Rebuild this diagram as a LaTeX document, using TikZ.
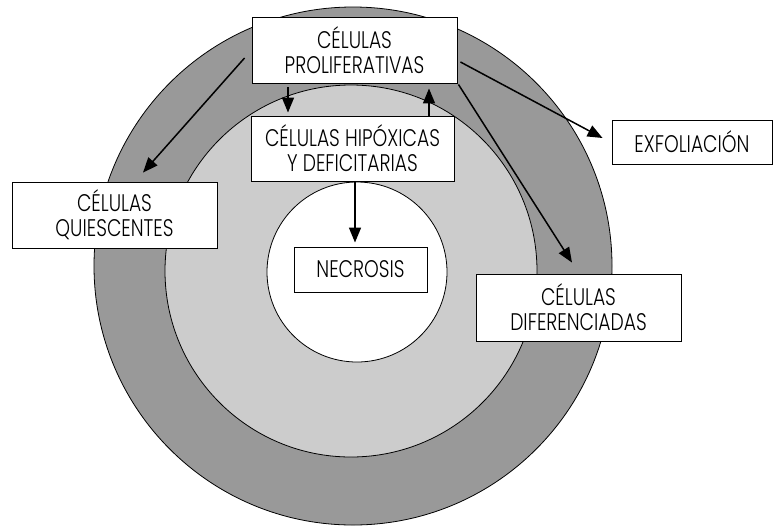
\documentclass[tikz,border=0pt]{standalone}
\usepackage{fontspec}
\setmainfont{Poppins Light}[FakeStretch=0.78]
\usetikzlibrary{arrows.meta}
\definecolor{ringdark}{gray}{0.6}
\definecolor{ringlight}{gray}{0.8}
\tikzset{
  label box/.style={draw=black, line width=0.9pt, fill=white, inner sep=0pt,
    align=center, font=\fontsize{24}{25}\selectfont},
  flow/.style={line width=1.5pt, -{Triangle[length=15pt,width=12pt]}},
  disc/.style={draw=black, line width=0.8pt}
}
\begin{document}
\begin{tikzpicture}[x=1pt,y=1pt]
\useasboundingbox (0,0) rectangle (773,-528);
% concentric zones of the spheroid
\filldraw[disc, fill=ringdark]  (353,-266) circle (259pt);
\filldraw[disc, fill=ringlight] (351,-271) circle (186pt);
\filldraw[disc, fill=white]     (357,-272) circle (90pt);

% labels
\node[label box, minimum width=205pt, minimum height=66pt] (prol) at (354.5,-50) {CÉLULAS\\PROLIFERATIVAS};
\node[label box, minimum width=203pt, minimum height=65pt] (hyp) at (352.5,-148.5) {CÉLULAS HIPÓXICAS\\Y DEFICITARIAS};
\node[label box, minimum width=205pt, minimum height=66pt] (quies) at (114.5,-215) {CÉLULAS\\QUIESCENTES};
\node[label box, minimum width=160pt, minimum height=44pt] (exfol) at (692,-142) {EXFOLIACIÓN};
\node[label box, minimum width=205pt, minimum height=67pt] (dif) at (578.5,-307.5) {CÉLULAS\\DIFERENCIADAS};
\node[label box, minimum width=133pt, minimum height=45pt] (necro) at (360.5,-269.5) {NECROSIS};

% transitions between populations
\draw[flow] ([xshift=-7pt,yshift=-8pt]prol.west) -- ([xshift=28.5pt,yshift=9pt]quies.north);
\draw[flow, shorten <=4pt, shorten >=3pt] ([xshift=-66.5pt]prol.south) -- ([xshift=-64.5pt]hyp.north);
\draw[flow, shorten >=5pt] ([xshift=76.5pt]hyp.north) -- ([xshift=74.5pt]prol.south);
\draw[flow, shorten >=4pt] ([xshift=2.5pt]hyp.south) -- ([xshift=-5.5pt]necro.north);
\draw[flow] ([xshift=3pt,yshift=-12pt]prol.east) -- ([xshift=-9pt,yshift=4pt]exfol.west);
\draw[flow] ([xshift=1pt,yshift=-1pt]prol.south east) -- ([xshift=-6.5pt,yshift=11pt]dif.north);
\end{tikzpicture}
\end{document}
